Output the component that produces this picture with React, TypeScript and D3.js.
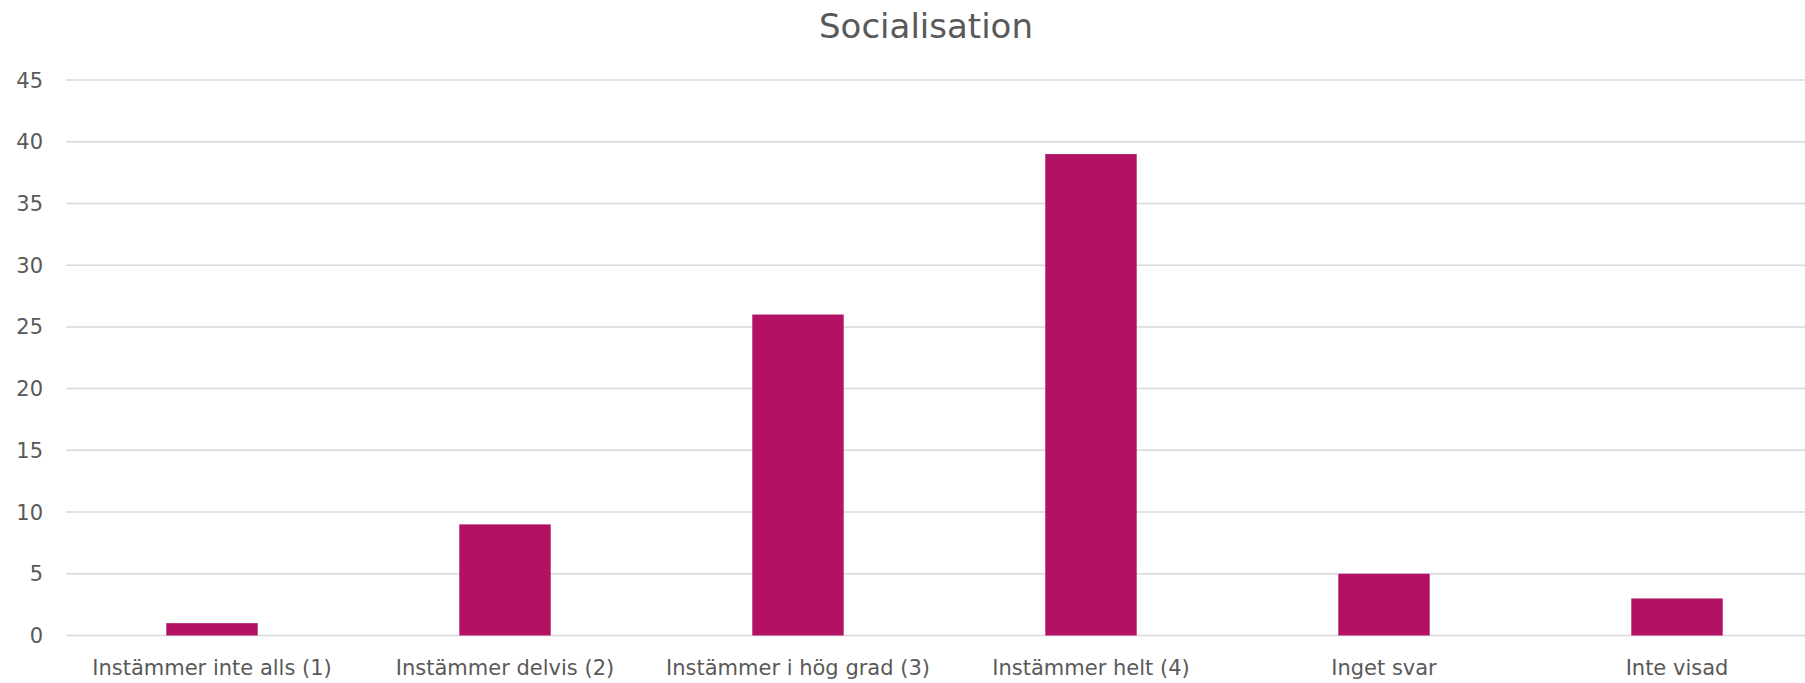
import React from "react";
import * as d3 from "d3";

const categories = [
  "Instämmer inte alls (1)",
  "Instämmer delvis (2)",
  "Instämmer i hög grad (3)",
  "Instämmer helt (4)",
  "Inget svar",
  "Inte visad",
];
const values = [1, 9, 26, 39, 5, 3];
const yTicks = [0, 5, 10, 15, 20, 25, 30, 35, 40, 45];
const title = "Socialisation";

const W = 1805;
const H = 683;
const FONT = "'DejaVu Sans', sans-serif";

export default function App() {
  const x = d3
    .scaleBand<string>()
    .domain(categories)
    .range([65.5, 1823.5])
    .paddingInner(0.688)
    .paddingOuter(0.344);
  const y = d3.scaleLinear().domain([0, 45]).range([635.5, 80]);

  return (
    <svg
      width={W}
      height={H}
      style={{ position: "absolute", left: 0, top: 0, background: "#fff" }}
    >
      <text
        x={926}
        y={38}
        textAnchor="middle"
        fontFamily={FONT}
        fontSize={34}
        fill="#595959"
      >
        {title}
      </text>
      {yTicks.map((t) => (
        <g key={t}>
          <line
            x1={66}
            x2={W}
            y1={y(t)}
            y2={y(t)}
            stroke="#d9d9d9"
            strokeWidth={1.5}
          />
          <text
            x={43}
            y={y(t)}
            dy="0.36em"
            textAnchor="end"
            fontFamily={FONT}
            fontSize={21}
            fill="#595959"
          >
            {t}
          </text>
        </g>
      ))}
      {categories.map((c, i) => (
        <rect
          key={c}
          x={x(c)}
          y={y(values[i])}
          width={x.bandwidth()}
          height={y(0) - y(values[i])}
          fill="#b31264"
        />
      ))}
      {categories.map((c) => (
        <text
          key={c}
          x={(x(c) as number) + x.bandwidth() / 2}
          y={675}
          textAnchor="middle"
          fontFamily={FONT}
          fontSize={21}
          fill="#595959"
        >
          {c}
        </text>
      ))}
    </svg>
  );
}
